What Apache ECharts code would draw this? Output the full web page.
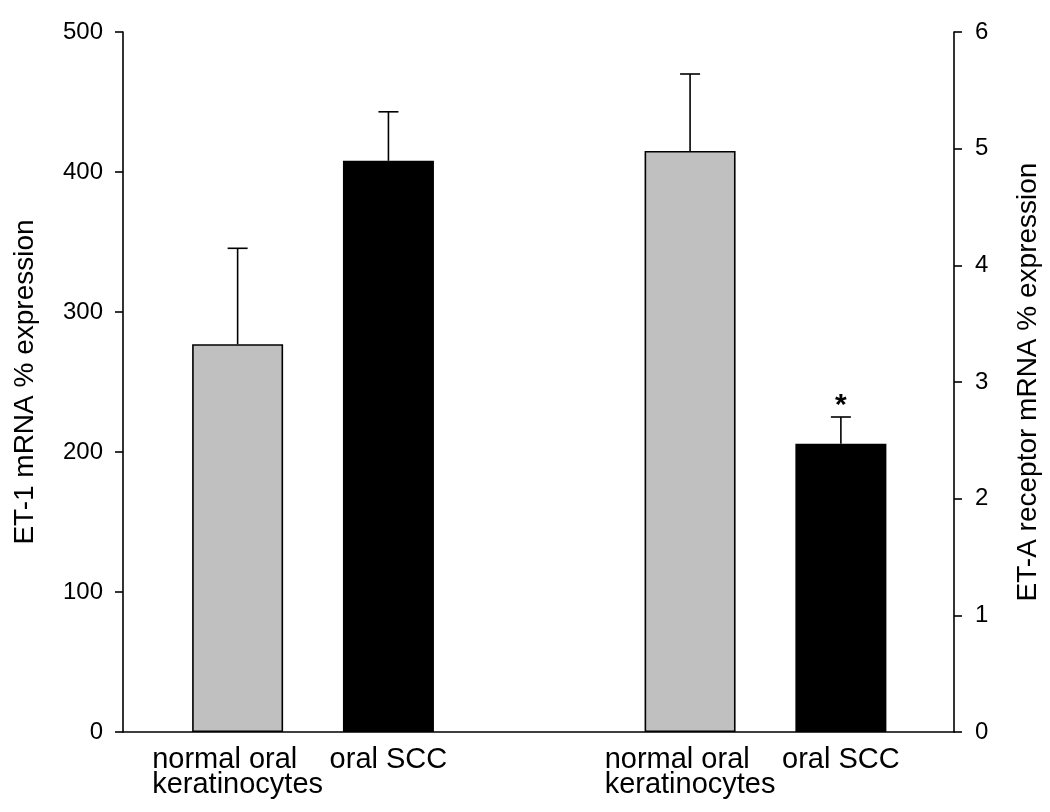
<!DOCTYPE html>
<html>
<head>
<meta charset="utf-8">
<script src="https://cdn.jsdelivr.net/npm/echarts@6/dist/echarts.min.js"></script>
<style>
  html, body { margin: 0; padding: 0; background: #fff; }
  #chart { width: 1050px; height: 812px; }
</style>
</head>
<body>
<div id="chart"></div>
<script>
// ---- data ----
const categories = ['normal oral\nkeratinocytes', 'oral SCC', 'normal oral\nkeratinocytes', 'oral SCC'];
const positions = [1, 2, 4, 5];
const barColors = ['#c0c0c0', '#000000', '#c0c0c0', '#000000'];
// ET-1 mRNA % expression (left axis)
const et1Values = [277, 408];
const et1ErrTop = [345.5, 443];
// ET-A receptor mRNA % expression (right axis)
const etaValues = [4.98, 2.47];
const etaErrTop = [5.64, 2.70];
const sigMarks = ['', '', '', '*'];
const leftTicks = { min: 0, max: 500, interval: 100 };
const rightTicks = { min: 0, max: 6, interval: 1 };

const FONT = 'Liberation Sans, Arial, sans-serif';
const chart = echarts.init(document.getElementById('chart'), null, { renderer: 'canvas' });

function barData(vals, offset) {
  return vals.map((v, i) => ({
    value: [positions[offset + i], v],
    itemStyle: { color: barColors[offset + i] }
  }));
}
function errData(vals, tops, offset) {
  return vals.map((v, i) => [positions[offset + i], v, tops[i], offset + i]);
}
function renderErr(params, api) {
  const x = api.value(0);
  const base = api.coord([x, api.value(1)]);
  const top = api.coord([x, api.value(2)]);
  const idx = api.value(3);
  const capHalf = 10;
  const children = [
    { type: 'line', shape: { x1: base[0], y1: base[1], x2: top[0], y2: top[1] }, style: { stroke: '#000', lineWidth: 1.6 } },
    { type: 'line', shape: { x1: top[0] - capHalf, y1: top[1], x2: top[0] + capHalf, y2: top[1] }, style: { stroke: '#000', lineWidth: 1.6 } }
  ];
  if (sigMarks[idx]) {
    children.push({ type: 'text', style: { text: sigMarks[idx], x: top[0], y: top[1] + 4, align: 'center', verticalAlign: 'bottom', font: 'bold 30px ' + FONT, fill: '#000' } });
  }
  return { type: 'group', children };
}

const axisCommon = {
  type: 'value',
  splitLine: { show: false },
  axisLine: { show: true, lineStyle: { color: '#000', width: 1.6 } },
  axisTick: { show: true, inside: false, length: 8, lineStyle: { color: '#000', width: 1.6 } },
  nameLocation: 'middle',
  nameTextStyle: { fontFamily: FONT, fontSize: 28, color: '#000' }
};

chart.setOption({
  animation: false,
  backgroundColor: '#fff',
  grid: { left: 123, right: 95, top: 32, bottom: 80, containLabel: false },
  xAxis: {
    type: 'value',
    min: 0.24,
    max: 5.75,
    splitLine: { show: false },
    axisLine: { show: true, onZero: false, lineStyle: { color: '#000', width: 1.6 } },
    axisTick: { show: false },
    axisLabel: {
      customValues: positions,
      formatter: function (v) {
        const i = positions.indexOf(v);
        if (i < 0) return '';
        return categories[i].split('\n').map(s => '{a|' + s + '}').join('\n');
      },
      margin: 15,
      rich: { a: { fontFamily: FONT, fontSize: 29, lineHeight: 25, color: '#000', align: 'left' } }
    }
  },
  yAxis: [
    Object.assign({}, axisCommon, {
      position: 'left',
      min: leftTicks.min, max: leftTicks.max, interval: leftTicks.interval,
      name: 'ET-1 mRNA % expression',
      nameGap: 84,
      axisLabel: { fontFamily: FONT, fontSize: 24, color: '#000', margin: 20 }
    }),
    Object.assign({}, axisCommon, {
      position: 'right',
      min: rightTicks.min, max: rightTicks.max, interval: rightTicks.interval,
      name: 'ET-A receptor mRNA % expression',
      nameGap: 60,
      axisLabel: { fontFamily: FONT, fontSize: 24, color: '#000', margin: 21 }
    })
  ],
  series: [
    {
      type: 'bar', yAxisIndex: 0, barWidth: 91, barGap: '-100%',
      data: barData(et1Values, 0),
      itemStyle: { borderColor: '#000', borderWidth: 1.6 }
    },
    {
      type: 'bar', yAxisIndex: 1, barWidth: 91, barGap: '-100%',
      data: barData(etaValues, 2),
      itemStyle: { borderColor: '#000', borderWidth: 1.6 }
    },
    {
      type: 'custom', yAxisIndex: 0, renderItem: renderErr,
      data: errData(et1Values, et1ErrTop, 0), z: 5
    },
    {
      type: 'custom', yAxisIndex: 1, renderItem: renderErr,
      data: errData(etaValues, etaErrTop, 2), z: 5
    }
  ]
});
</script>
</body>
</html>
